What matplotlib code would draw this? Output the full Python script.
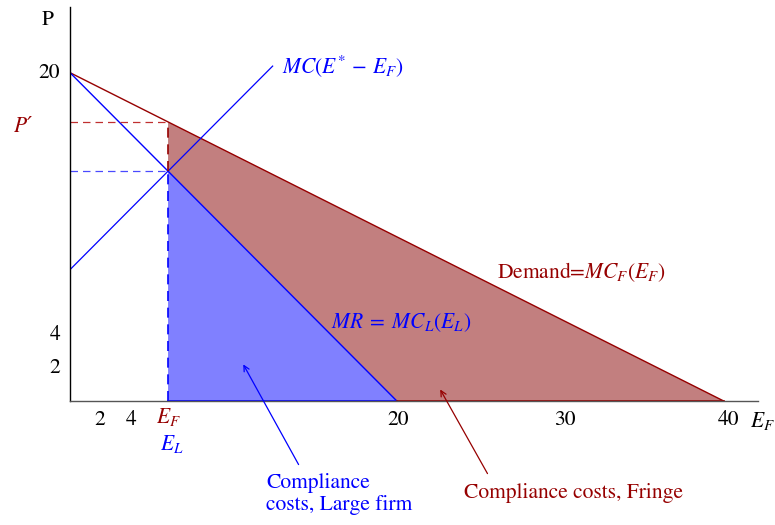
import numpy as np
import matplotlib.pyplot as plt

plt.rcParams['font.family'] = ['STIXGeneral', 'DejaVu Serif']
plt.rcParams['mathtext.fontset'] = 'stix'

# curves (quantity, price)
demand_x = [0, 40]
demand_y = [20, 0]
mr_x = [0, 20]
mr_y = [20, 0]
mc_x = [0, 12.4]
mc_y = [8, 20.4]

# equilibrium
e_f = 6
p_mr = 14
p_prime = 17

xtick_vals = [2, 4, 20, 30, 40]
ytick_vals = [20, 4, 2]

dred = '#960000'
red_fill = '#c27f7f'
blue = '#0000ff'
blue_fill = '#8080ff'

fig = plt.figure(figsize=(7.75, 5.25), dpi=100)
ax = fig.add_axes([70 / 775, 124 / 525, 688 / 775, 394 / 525])
ax.set_xlim(0, 42.1)
ax.set_ylim(0, 24.0)

# shaded areas
ax.fill([e_f, e_f, 40, 20], [p_mr, p_prime, 0, 0], color=red_fill, lw=0)
ax.fill([e_f, e_f, 20], [0, p_mr, 0], color=blue_fill, lw=0)

ax.plot(demand_x, demand_y, color=dred, lw=1)
ax.plot(mr_x, mr_y, color=blue, lw=1)
ax.plot(mc_x, mc_y, color=blue, lw=0.9)
ax.plot([e_f, 20], [0, 0], color=blue, lw=1.2)
ax.plot([20, 40], [0, 0], color=dred, lw=1.2)

# dashed guides
ax.plot([0, e_f], [p_prime, p_prime], color='#c03030', lw=0.9, ls=(0, (6, 4)))
ax.plot([e_f, e_f], [p_mr, p_prime], color=dred, lw=1.2, ls=(0, (6, 4)))
ax.plot([0, e_f], [p_mr, p_mr], color='#4a4aff', lw=0.9, ls=(0, (6, 4)))
ax.plot([e_f, e_f], [0, p_mr], color=blue, lw=1.2, ls=(0, (6, 4)))

for s in ['top', 'right']:
    ax.spines[s].set_visible(False)
ax.spines['left'].set_linewidth(1)
ax.spines['bottom'].set_linewidth(1)
ax.spines['bottom'].set_color('#555555')
ax.set_xticks([])
ax.set_yticks([])

fs = 15.5
# tick labels
xlab_pos = [1.8, 3.75, 20.05, 30.3, 40.3]
for v, xp in zip(xtick_vals, xlab_pos):
    ax.text(xp, -1.15, str(v), ha='center', va='center', fontsize=fs)
for v in ytick_vals:
    ax.text(-0.6, v, str(v), ha='right', va='center', fontsize=fs)
ax.text(-1.35, 23.2, 'P', ha='center', va='center', fontsize=fs)
ax.text(-2.9, 16.7, 'P\u2032', ha='center', va='center', fontsize=fs,
        color=dred, fontstyle='italic')
ax.text(e_f, -1.0, r'$E_F$', ha='center', va='center', fontsize=fs, color=dred)
ax.text(e_f + 0.2, -2.6, r'$E_L$', ha='center', va='center', fontsize=fs, color=blue)
ax.text(41.6, -1.2, r'$E_F$', ha='left', va='center', fontsize=fs)

# curve labels
ax.text(13.0, 20.4, r'$MC(E^{*}\,-\,E_F)$', ha='left', va='center', fontsize=fs, color=blue)
ax.text(26.1, 7.87, r'Demand=$MC_F(E_F)$', ha='left', va='center', fontsize=fs, color=dred)
ax.text(16.0, 4.76, r'$MR\;=\;MC_L(E_L)$', ha='left', va='center', fontsize=fs, color=blue)

# compliance cost arrows
ax.annotate('', xy=(10.52, 2.38), xytext=(14.07, -4.02), annotation_clip=False,
            arrowprops=dict(arrowstyle='->', color=blue, lw=0.9))
ax.text(12.0, -4.4, 'Compliance\ncosts, Large firm', ha='left', va='top',
        fontsize=fs, color=blue, linespacing=1.1)
ax.annotate('', xy=(22.57, 0.85), xytext=(25.63, -4.57), annotation_clip=False,
            arrowprops=dict(arrowstyle='->', color=dred, lw=0.9))
ax.text(30.8, -5.6, 'Compliance costs, Fringe', ha='center', va='center',
        fontsize=fs, color=dred)

fig.savefig('out.png', dpi=100)
